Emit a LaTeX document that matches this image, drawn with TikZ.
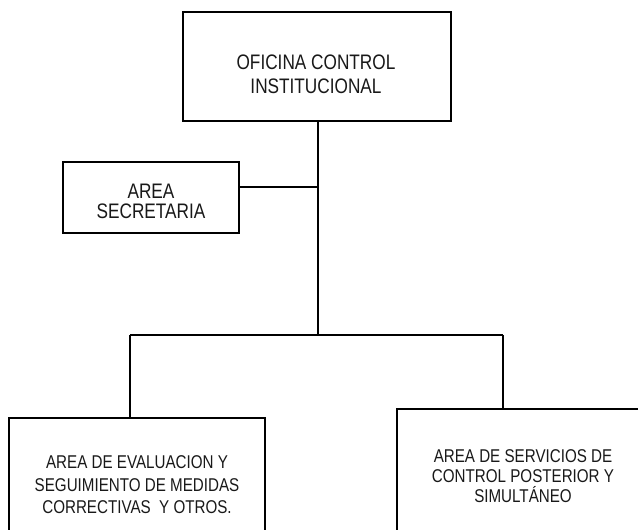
\documentclass[tikz,border=0pt]{standalone}
\usepackage{fontspec}
\setmainfont{Liberation Sans}[FakeStretch=0.82]
\begin{document}
\begin{tikzpicture}[x=1pt,y=1pt,
  box/.style={draw=black, line width=1.4pt, fill=white, inner sep=0pt},
  txt/.style={align=center, inner sep=0pt, text=black!90},
  conn/.style={draw=black, line width=1.4pt}]
\useasboundingbox (0,0) rectangle (638,530);
\clip (0,0) rectangle (638,530);
\fill[white] (0,0) rectangle (638,530);
% boxes
\node[box, minimum width=268pt, minimum height=109pt] (top) at (317,463.5) {};
\node[txt, font=\fontsize{21}{24}\selectfont] (toptxt) at (316,456)
  {OFICINA CONTROL\\INSTITUCIONAL};
\node[box, minimum width=176pt, minimum height=71pt] (sec) at (151,332.5) {};
\node[txt, font=\fontsize{21}{20}\selectfont] (sectxt) at (151,329)
  {AREA\\SECRETARIA};
\node[box, minimum width=256pt, minimum height=132pt] (left) at (137,46) {};
\node[txt, font=\fontsize{18.5}{22.5}\selectfont] (lefttxt) at (137,45)
  {AREA DE EVALUACION Y\\SEGUIMIENTO DE MEDIDAS\\CORRECTIVAS\ \ Y OTROS.};
\node[box, minimum width=252pt, minimum height=132pt] (right) at (523,55) {};
\node[txt, font=\fontsize{18.5}{20}\selectfont] (righttxt) at (523,54)
  {AREA DE SERVICIOS DE\\CONTROL POSTERIOR Y\\SIMULTÁNEO};
% connectors
\coordinate (jb) at (318,195);
\coordinate (jl) at (130,195);
\coordinate (jr) at (503,195);
\draw[conn] (top.south -| jb) -- (jb);
\draw[conn] ([yshift=10.5pt]sec.east) -- ([yshift=10.5pt]sec.east -| jb);
\draw[conn] (jl) -- (jr);
\draw[conn] (jl) -- (jl |- left.north);
\draw[conn] (jr) -- (jr |- right.north);
\end{tikzpicture}
\end{document}
